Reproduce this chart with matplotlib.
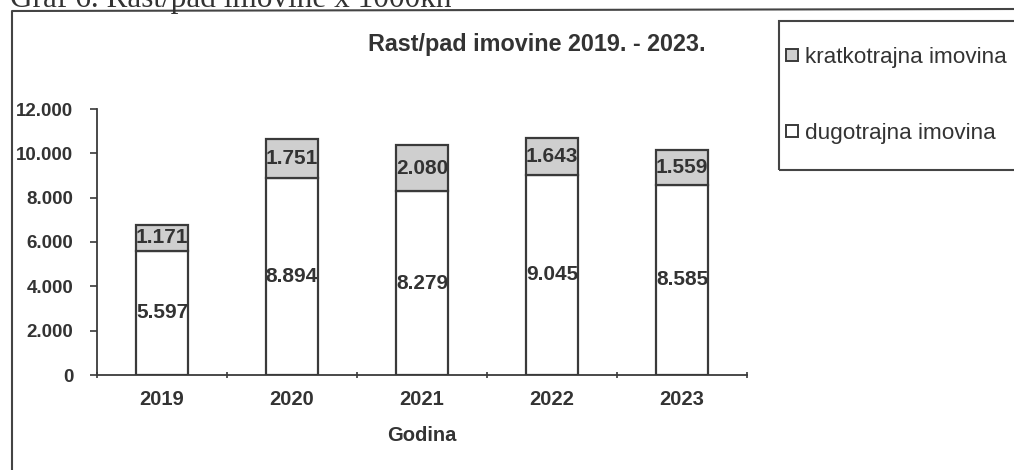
import matplotlib.pyplot as plt
from matplotlib.patches import Patch, Rectangle
from matplotlib.lines import Line2D
import numpy as np

plt.rcParams['font.family'] = ['Liberation Sans', 'DejaVu Sans']

# podaci u 000 kn
godine = ['2019', '2020', '2021', '2022', '2023']
dugotrajna = [5597, 8894, 8279, 9045, 8585]
kratkotrajna = [1171, 1751, 2080, 1643, 1559]

tekst = '#333333'
rub = '#3a3a3a'

fig = plt.figure(figsize=(10.14, 4.70), dpi=100)
ax = fig.add_axes([97 / 1014, 1 - 375 / 470, 650 / 1014, 266 / 470])

x = np.arange(len(godine))
ax.bar(x, dugotrajna, width=0.4, color='white', edgecolor=rub, linewidth=1.6,
       label='dugotrajna imovina', zorder=3)
ax.bar(x, kratkotrajna, width=0.4, bottom=dugotrajna, color='#cfcfcf',
       edgecolor=rub, linewidth=1.6, label='kratkotrajna imovina', zorder=3)

def fmt(v):
    return f'{v:,}'.replace(',', '.')

for i in range(len(godine)):
    ax.text(x[i], dugotrajna[i] / 2, fmt(dugotrajna[i]), ha='center', va='center',
            fontsize=15, fontweight='bold', color=tekst, zorder=4)
    ax.text(x[i], dugotrajna[i] + kratkotrajna[i] / 2, fmt(kratkotrajna[i]),
            ha='center', va='center', fontsize=15, fontweight='bold',
            color=tekst, zorder=4)

ax.set_xlim(-0.5, len(godine) - 0.5)
ax.set_ylim(0, 12000)
ax.set_yticks(range(0, 12001, 2000))
ax.set_yticklabels([fmt(v) for v in range(0, 12001, 2000)], fontweight='bold')
ax.set_xticks(x)
ax.set_xticklabels(godine, fontweight='bold')
ax.set_xticks(np.arange(-0.5, len(godine)), minor=True)
ax.tick_params(axis='x', which='major', length=0, labelsize=14.5,
               labelcolor=tekst, pad=11)
ax.tick_params(axis='x', which='minor', length=5, width=1.2, color=rub,
               direction='inout')
ax.tick_params(axis='y', length=5, width=1.2, color=rub, labelsize=13.5,
               labelcolor=tekst, pad=12)

for s in ['top', 'right']:
    ax.spines[s].set_visible(False)
for s in ['left', 'bottom']:
    ax.spines[s].set_color(rub)
    ax.spines[s].set_linewidth(1.3)

ax.set_xlabel('Godina', fontsize=14.5, fontweight='bold', color=tekst, labelpad=12)
fig.text(537 / 1014, 1 - 44 / 470, 'Rast/pad imovine 2019. - 2023.', ha='center',
         va='center', fontsize=16.8, fontweight='bold', color=tekst)

# okvir grafa i okvir legende
fig.add_artist(Line2D([12 / 1014, 12 / 1014, 1.0], [0.0, 1 - 11 / 470, 1 - 9 / 470],
                      transform=fig.transFigure, color='#444444', linewidth=1.5))
fig.add_artist(Rectangle((779 / 1014, 1 - 170 / 470), 0.3, 149 / 470,
                         transform=fig.transFigure, fill=False,
                         edgecolor='#444444', linewidth=1.5))

handles = [Patch(facecolor='#cfcfcf', edgecolor=rub, linewidth=1.4),
           Patch(facecolor='white', edgecolor=rub, linewidth=1.4)]
fig.legend(handles, ['kratkotrajna imovina', 'dugotrajna imovina'],
           loc='upper left', bbox_to_anchor=(786 / 1014, 1 - 47 / 470),
           frameon=False, fontsize=16.2, labelcolor=tekst, handlelength=0.55,
           handleheight=0.45, handletextpad=0.3, labelspacing=2.45,
           borderaxespad=0, borderpad=0)

# naslov dokumenta iznad okvira
fig.text(10 / 1014, 1 - 7 / 470, 'Graf 6. Rast/pad imovine x 1000kn',
         ha='left', va='baseline', fontsize=22.5, color='#333333',
         family='Liberation Serif')

fig.savefig('out.png', dpi=100)
